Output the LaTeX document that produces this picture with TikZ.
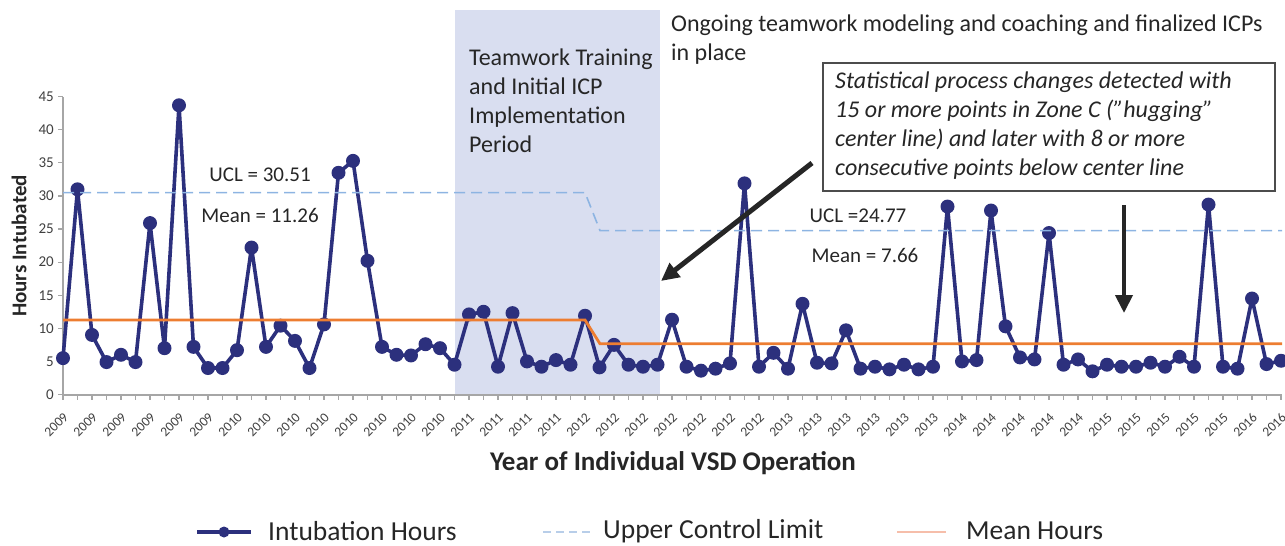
\documentclass[tikz,border=0pt]{standalone}
\usepackage{fontspec}
\setmainfont{Carlito}
\usetikzlibrary{arrows.meta}
\definecolor{navy}{RGB}{44,48,125}
\definecolor{meanor}{RGB}{237,125,49}
\definecolor{uclblue}{RGB}{141,180,226}
\definecolor{periodbg}{RGB}{217,222,240}
\definecolor{legucl}{RGB}{184,206,233}
\definecolor{legmean}{RGB}{246,190,170}
\definecolor{axisgray}{RGB}{166,166,166}
\definecolor{ticktext}{RGB}{64,64,64}
\definecolor{maintext}{RGB}{38,38,38}
\tikzset{
  dataline/.style={navy, line width=3.6pt, line join=round},
  datamark/.style={circle, fill=navy, draw=none, minimum size=14pt, inner sep=0pt},
  meanline/.style={meanor, line width=2.8pt},
  uclline/.style={uclblue, line width=1.6pt, dash pattern=on 11pt off 6pt},
  axisline/.style={axisgray, line width=1.2pt},
  ytick/.style={font=\fontsize{15}{18}\selectfont, text=ticktext, anchor=east, inner sep=0pt},
  xtick/.style={font=\fontsize{13.5}{16}\selectfont, text=ticktext, rotate=45, anchor=east, inner sep=0pt},
  note/.style={font=\fontsize{21}{25}\selectfont, text=maintext, inner sep=0pt},
  bigtext/.style={font=\fontsize{24}{29}\selectfont, text=maintext, inner sep=0pt, align=left, anchor=north west},
  legtext/.style={font=\fontsize{27.5}{32}\selectfont, text=maintext, inner sep=0pt, anchor=west},
  bigarrow/.style={black!85, line width=5pt, -{Triangle[length=18pt, width=17pt]}},
}
\begin{document}
\begin{tikzpicture}[x=1pt, y=-1pt]
\useasboundingbox (0,0) rectangle (1285,546);
% shaded period
\fill[periodbg] (455,10) rectangle (660,395);
% axes
\coordinate (O) at (63,395);
\coordinate (Ytop) at (63,97);
\coordinate (Xend) at (1282,395);
\draw[axisline] (Ytop) -- (O) -- (Xend);
\foreach \t in {0,5,...,45} {
  \draw[axisline] ({58},{394.5-6.618*\t}) -- (63,{394.5-6.618*\t});
  \node[ytick] (yl\t) at (54,{394.5-6.618*\t}) {\t};
}
\foreach \i in {0,...,84} {
  \draw[axisline] ({63+14.5*\i},395) -- ({63+14.5*\i},400);
}
% data coordinates
\foreach \v [count=\i from 0] in {5.5,31.0,9.0,4.9,6.0,4.9,25.9,7.0,43.7,7.2,4.0,4.0,6.7,22.2,7.2,10.4,8.1,4.0,10.6,33.5,35.3,20.2,7.2,6.0,5.9,7.6,7.0,4.5,12.1,12.5,4.2,12.3,5.0,4.2,5.2,4.5,11.9,4.1,7.5,4.5,4.2,4.5,11.3,4.2,3.6,3.9,4.7,31.9,4.2,6.3,3.9,13.7,4.8,4.7,9.7,3.9,4.2,3.8,4.5,3.8,4.2,28.4,5.0,5.2,27.8,10.3,5.6,5.3,24.4,4.5,5.3,3.5,4.5,4.2,4.2,4.8,4.2,5.7,4.2,28.7,4.2,3.9,14.5,4.6,5.1} {
  \coordinate (p\i) at ({63+14.5*\i},{394.5-6.618*\v});
}
% year labels
\foreach \yr [count=\k from 0] in {2009,2009,2009,2009,2009,2009,2010,2010,2010,2010,2010,2010,2010,2010,2011,2011,2011,2011,2012,2012,2012,2012,2012,2012,2012,2013,2013,2013,2013,2013,2013,2014,2014,2014,2014,2014,2015,2015,2015,2015,2015,2016,2016} {
  \node[xtick] (xl\k) at ({63+29*\k+3},{415}) {\yr};
}
% data line and markers
\draw[dataline] (p0) \foreach \i in {1,...,84} { -- (p\i) };
\foreach \i in {0,...,84} { \node[datamark] (m\i) at (p\i) {}; }
% UCL and mean lines
\coordinate (u0) at (63,{394.5-6.618*30.51});
\coordinate (u1) at (585,{394.5-6.618*30.51});
\coordinate (u2) at (600,{394.5-6.618*24.77});
\coordinate (u3) at (1282,{394.5-6.618*24.77});
\draw[uclline] (u0) -- (u1) -- (u2) -- (u3);
\coordinate (a0) at (63,{394.5-6.618*11.26});
\coordinate (a1) at (585,{394.5-6.618*11.26});
\coordinate (a2) at (600,{394.5-6.618*7.66});
\coordinate (a3) at (1282,{394.5-6.618*7.66});
\draw[meanline] (a0) -- (a1) -- (a2) -- (a3);
% value notes
\node[note] (ucl1) at (260,175) {UCL = 30.51};
\node[note] (mean1) at (260,215) {Mean = 11.26};
\node[note] (ucl2) at (858,216) {UCL =24.77};
\node[note] (mean2) at (865,255) {Mean = 7.66};
% period texts
\node[bigtext] (train) at (469,49) {Teamwork Training\\and Initial ICP\\Implementation\\Period};
\node[bigtext] (ongo) at (671,15) {Ongoing teamwork modeling and coaching and finalized ICPs\\in place};
% annotation box
\draw[black!70, line width=1.4pt] (823,63) rectangle (1275,191);
\node[font=\fontsize{24}{29}\selectfont\itshape, text=maintext, inner sep=0pt, align=left, anchor=north west] (stat) at (835,72) {Statistical process changes detected with\\15 or more points in Zone C (”hugging”\\center line) and later with 8 or more\\consecutive points below center line};
% arrows
\coordinate (d0) at (812,163);
\coordinate (d1) at (661,281);
\draw[bigarrow] (d0) -- (d1);
\coordinate (v0) at (1124,205);
\coordinate (v1) at (1124,313);
\draw[bigarrow, line width=4pt] (v0) -- (v1);
% axis titles
\node[font=\fontsize{21}{25}\selectfont\bfseries, text=maintext, rotate=90, inner sep=0pt] (ytitle) at (19,246) {Hours Intubated};
\node[font=\fontsize{27}{32}\selectfont\bfseries, text=maintext, inner sep=0pt] (xtitle) at (673,463) {Year of Individual VSD Operation};
% legend
\coordinate (l1a) at (197,532);
\coordinate (l1b) at (251,532);
\draw[navy, line width=4pt] (l1a) -- (l1b);
\node[circle, fill=navy, minimum size=11pt, inner sep=0pt] (l1m) at (224,532) {};
\node[legtext] (l1t) at (268,531) {Intubation Hours};
\coordinate (l2a) at (543,532);
\coordinate (l2b) at (591,532);
\draw[legucl, line width=2.6pt, dash pattern=on 8pt off 5pt] (l2a) -- (l2b);
\node[legtext] (l2t) at (603,531) {Upper Control Limit};
\coordinate (l3a) at (897,532);
\coordinate (l3b) at (946,532);
\draw[legmean, line width=2.6pt] (l3a) -- (l3b);
\node[legtext] (l3t) at (966,531) {Mean Hours};
\end{tikzpicture}
\end{document}
